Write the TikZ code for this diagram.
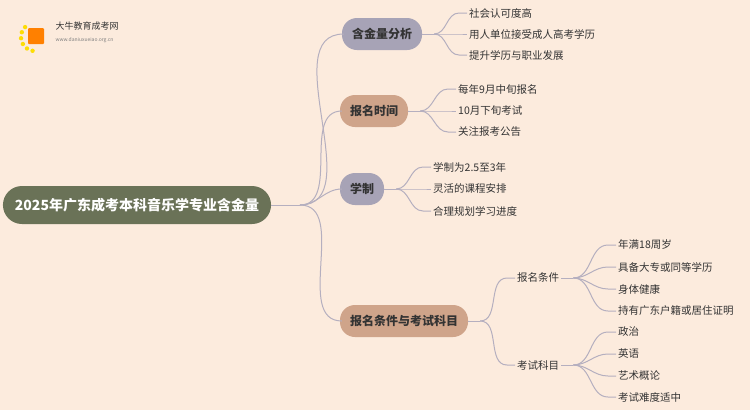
\documentclass[tikz,border=0pt]{standalone}
\usepackage{fontspec}
\setmainfont{Noto Sans CJK SC}
\usetikzlibrary{positioning}
\definecolor{bgc}{HTML}{FCEBDD}
\definecolor{rootc}{HTML}{6A7257}
\definecolor{greyc}{HTML}{A7A3B6}
\definecolor{brownc}{HTML}{CFA48A}
\definecolor{linec}{HTML}{B5AFBF}
\definecolor{txtc}{HTML}{333333}
\tikzset{
  root/.style={fill=rootc,text=white,rounded corners=19pt,minimum height=38pt,font=\fontsize{14}{16}\selectfont\bfseries,inner xsep=12pt},
  topic/.style={rounded corners=15pt,minimum height=32pt,font=\fontsize{12}{14}\selectfont\bfseries,text=txtc,inner xsep=10pt},
  leaf/.style={anchor=west,font=\fontsize{10.5}{12}\selectfont,text=txtc,inner sep=2pt},
  conn/.style={draw=linec,line width=1pt},
}
\begin{document}
\begin{tikzpicture}[x=1pt,y=-1pt]
\fill[bgc] (0,0) rectangle (750,410);
\useasboundingbox (0,0) rectangle (750,410);
% logo
\foreach \a in {100,125,150,175,200,225}
  \fill[yellow!80!orange] (35,37)++(\a:14) circle (2.2);
\fill[orange,rounded corners=1pt] (28,28) rectangle (44,44);
\node[anchor=west,font=\fontsize{9}{10}\selectfont,text=txtc] (logo) at (52,26) {大牛教育成考网};
\node[anchor=west,font=\fontsize{5}{6}\selectfont,text=gray] (url) at (52,40) {www.daniuxueiao.org.cn};
% root and topics
\node[root] (root) at (137,205) {2025年广东成考本科音乐学专业含金量};
\node[topic,fill=greyc] (value) at (382,34) {含金量分析};
\node[topic,fill=brownc] (time) at (374,111) {报名时间};
\node[topic,fill=greyc] (years) at (362,189) {学制};
\node[topic,fill=brownc] (cond) at (404,321) {报名条件与考试科目};
\coordinate (trunk) at (300,205);
\draw[conn] (root.east) -- (trunk);
\foreach \t in {value,time,years,cond}
  \draw[conn] (trunk) to[out=0,in=180] ([xshift=2pt]\t.west);
% leaves
\node[leaf] (v1) at (467,13) {社会认可度高};
\node[leaf] (v2) at (467,34) {用人单位接受成人高考学历};
\node[leaf] (v3) at (467,55) {提升学历与职业发展};
\node[leaf] (t1) at (456,89) {每年9月中旬报名};
\node[leaf] (t2) at (456,111) {10月下旬考试};
\node[leaf] (t3) at (456,132) {关注报考公告};
\node[leaf] (y1) at (431,167) {学制为2.5至3年};
\node[leaf] (y2) at (431,189) {灵活的课程安排};
\node[leaf] (y3) at (431,211) {合理规划学习进度};
\node[leaf] (c1) at (515,278) {报名条件};
\node[leaf] (c2) at (515,365) {考试科目};
\node[leaf] (a1) at (616,245) {年满18周岁};
\node[leaf] (a2) at (616,267) {具备大专或同等学历};
\node[leaf] (a3) at (616,289) {身体健康};
\node[leaf] (a4) at (616,311) {持有广东户籍或居住证明};
\node[leaf] (b1) at (616,332) {政治};
\node[leaf] (b2) at (616,354) {英语};
\node[leaf] (b3) at (616,376) {艺术概论};
\node[leaf] (b4) at (616,397) {考试难度适中};
% connectors
\foreach \p/\s/\l in {value/0/{v1,v2,v3},time/0/{t1,t2,t3},years/0/{y1,y2,y3},cond/0/{c1,c2},c1/0/{a1,a2,a3,a4},c2/0/{b1,b2,b3,b4}}{
  \coordinate (fork) at ([xshift=12pt]\p.east);
  \draw[conn] (\p.east) -- (fork);
  \foreach \x in \l
    \draw[conn] (fork) to[out=0,in=180] ([xshift=-8pt]\x.west) -- (\x.west);
}
\end{tikzpicture}
\end{document}
